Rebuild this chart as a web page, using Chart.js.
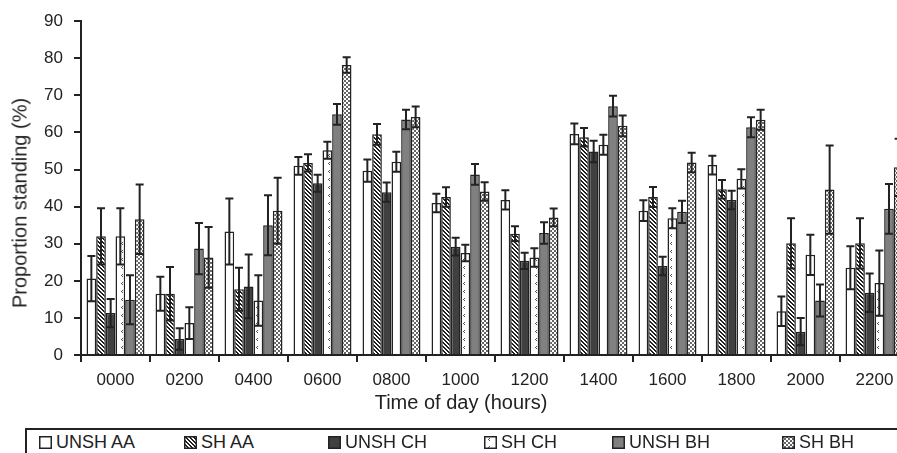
<!DOCTYPE html>
<html>
<head>
<meta charset="utf-8">
<script src="https://cdn.jsdelivr.net/npm/chart.js@4.4.0/dist/chart.umd.min.js"></script>
<style>
  html, body { margin: 0; padding: 0; background: #fff; }
  #wrap { position: relative; width: 897px; height: 453px; overflow: hidden; font-family: 'Liberation Sans', Arial, sans-serif; color: #222; }
  #chart { position: absolute; left: 0; top: 0; }
  .ytitle { position: absolute; left: 20px; top: 203px; transform: translate(-50%, -50%) rotate(-90deg); font-size: 20px; white-space: nowrap; }
  .xtitle { position: absolute; left: 461px; top: 402px; transform: translate(-50%, -50%); font-size: 20px; white-space: nowrap; }
  #legend { position: absolute; left: 25px; top: 428px; width: 900px; height: 40px; border: 2px solid #222; box-sizing: border-box; }
  .item { position: absolute; top: 2px; font-size: 18px; line-height: 21px; display: flex; align-items: center; white-space: nowrap; }
  .item canvas { margin-right: 4px; }
</style>
</head>
<body>
<div id="wrap">
  <canvas id="chart" width="909" height="428"></canvas>
  <div class="ytitle">Proportion standing (%)</div>
  <div class="xtitle">Time of day (hours)</div>
  <div id="legend"></div>
</div>
<script>
// data: mean proportion standing (%) and error (+/-)
const hours = ['0000', '0200', '0400', '0600', '0800', '1000', '1200', '1400', '1600', '1800', '2000', '2200'];
const seriesNames = ['UNSH AA', 'SH AA', 'UNSH CH', 'SH CH', 'UNSH BH', 'SH BH'];

const unshAA    = [20.6, 16.5, 33.3, 51.0, 49.7, 41.0, 41.8, 59.6, 38.9, 51.2, 11.8, 23.5];
const unshAAErr = [6.1, 4.6, 8.9, 2.4, 3.0, 2.5, 2.6, 2.8, 2.8, 2.5, 4.0, 5.8];
const shAA      = [32.0, 16.5, 17.7, 51.8, 59.5, 42.6, 32.7, 58.7, 42.6, 44.7, 30.1, 30.1];
const shAAErr   = [7.6, 7.2, 5.8, 2.3, 2.8, 2.6, 2.0, 2.5, 2.7, 2.5, 6.8, 6.8];
const unshCH    = [11.3, 4.3, 18.5, 46.3, 43.9, 29.2, 25.4, 54.9, 24.0, 41.8, 6.3, 16.8];
const unshCHErr = [3.8, 2.9, 8.6, 2.3, 2.6, 2.4, 2.2, 2.9, 2.5, 2.5, 3.7, 5.2];
const shCH      = [32.0, 8.6, 14.7, 55.2, 52.1, 27.5, 26.3, 56.7, 36.9, 47.5, 27.0, 19.4];
const shCHErr   = [7.6, 4.3, 6.8, 2.3, 2.7, 2.2, 2.5, 2.7, 2.7, 2.6, 5.4, 8.8];
const unshBH    = [14.9, 28.7, 35.0, 64.9, 63.5, 48.7, 32.9, 67.1, 38.6, 61.4, 14.7, 39.4];
const unshBHErr = [6.6, 6.9, 8.1, 2.8, 2.6, 2.8, 2.9, 2.8, 3.0, 2.7, 4.3, 6.7];
const shBH      = [36.6, 26.3, 38.9, 78.2, 64.2, 44.1, 37.1, 61.8, 51.9, 63.4, 44.6, 50.6];
const shBHErr   = [9.4, 8.2, 8.9, 2.1, 2.8, 2.5, 2.4, 2.8, 2.6, 2.7, 11.9, 7.7];

const values = [unshAA, shAA, unshCH, shCH, unshBH, shBH];
const errors = [unshAAErr, shAAErr, unshCHErr, shCHErr, unshBHErr, shBHErr];

const FONT = "'Liberation Sans', Arial, sans-serif";
const INK = '#222';

// fill patterns (greyscale print style)
function tile(w, h, draw) {
    const c = document.createElement('canvas');
    c.width = w; c.height = h;
    const g = c.getContext('2d');
    g.fillStyle = '#fff';
    g.fillRect(0, 0, w, h);
    draw(g);
    return c.getContext('2d').createPattern(c, 'repeat');
}

const hatch = tile(4, 4, g => {
    g.fillStyle = '#1e1e1e';
    for (let i = 0; i < 4; i++) {
        g.fillRect(i, i, 1, 1);
        g.fillRect((i + 1) % 4, i, 1, 1);
    }
});
const chevrons = tile(9, 8, g => {
    g.fillStyle = '#555';
    g.fillRect(5, 2, 1, 1);
    g.fillRect(4, 3, 1, 1);
    g.fillRect(5, 4, 1, 1);
});
const checks = tile(4, 4, g => {
    g.fillStyle = '#666';
    g.fillRect(0, 0, 2, 2);
    g.fillRect(2, 2, 2, 2);
});

const fills = ['#ffffff', hatch, '#404040', chevrons, '#808080', checks];

const errorBars = {
    id: 'errorBars',
    afterDatasetsDraw(chart) {
        const { ctx } = chart;
        const y = chart.scales.y;
        ctx.save();
        ctx.strokeStyle = INK;
        ctx.lineWidth = 2;
        chart.data.datasets.forEach((ds, i) => {
            chart.getDatasetMeta(i).data.forEach((bar, j) => {
                const v = ds.data[j], e = ds.errors[j];
                const top = y.getPixelForValue(v + e);
                const bot = y.getPixelForValue(Math.max(0, v - e));
                const hw = 4;
                ctx.beginPath();
                ctx.moveTo(bar.x, top); ctx.lineTo(bar.x, bot);
                ctx.moveTo(bar.x - hw, top); ctx.lineTo(bar.x + hw, top);
                ctx.moveTo(bar.x - hw, bot); ctx.lineTo(bar.x + hw, bot);
                ctx.stroke();
            });
        });
        ctx.restore();
    }
};

new Chart(document.getElementById('chart'), {
    type: 'bar',
    data: {
        labels: hours,
        datasets: seriesNames.map((name, i) => ({
            label: name,
            data: values[i],
            errors: errors[i],
            backgroundColor: fills[i],
            borderColor: INK,
            borderWidth: 1.5,
            categoryPercentage: 0.84,
            barPercentage: 1.0
        }))
    },
    options: {
        responsive: false,
        animation: false,
        layout: { padding: { top: 18, left: 0, right: 0, bottom: 0 } },
        plugins: { legend: { display: false }, tooltip: { enabled: false } },
        scales: {
            x: {
                offset: true,
                grid: { offset: true, drawOnChartArea: false, tickLength: 7, color: INK, lineWidth: 2 },
                border: { color: INK, width: 2 },
                ticks: { color: INK, font: { family: FONT, size: 17 }, padding: 8, maxRotation: 0, autoSkip: false },
                afterFit: s => { s.height = 73; }
            },
            y: {
                min: 0,
                max: 90,
                grid: { drawOnChartArea: false, tickLength: 7, color: INK, lineWidth: 2 },
                border: { color: INK, width: 2 },
                ticks: { stepSize: 10, color: INK, font: { family: FONT, size: 17 }, padding: 11 },
                afterFit: s => { s.width = 81; }
            }
        }
    },
    plugins: [errorBars]
});

// legend, drawn as html so the box can run off the page like the original
const legendX = [12, 157, 301, 457, 585, 755];
const legend = document.getElementById('legend');
seriesNames.forEach((name, i) => {
    const item = document.createElement('div');
    item.className = 'item';
    item.style.left = legendX[i] + 'px';
    const sw = document.createElement('canvas');
    sw.width = 13; sw.height = 13;
    const g = sw.getContext('2d');
    g.fillStyle = fills[i];
    g.fillRect(0, 0, 13, 13);
    g.strokeStyle = INK;
    g.lineWidth = 1.5;
    g.strokeRect(0.75, 0.75, 11.5, 11.5);
    item.appendChild(sw);
    item.appendChild(document.createTextNode(name));
    legend.appendChild(item);
});
</script>
</body>
</html>
